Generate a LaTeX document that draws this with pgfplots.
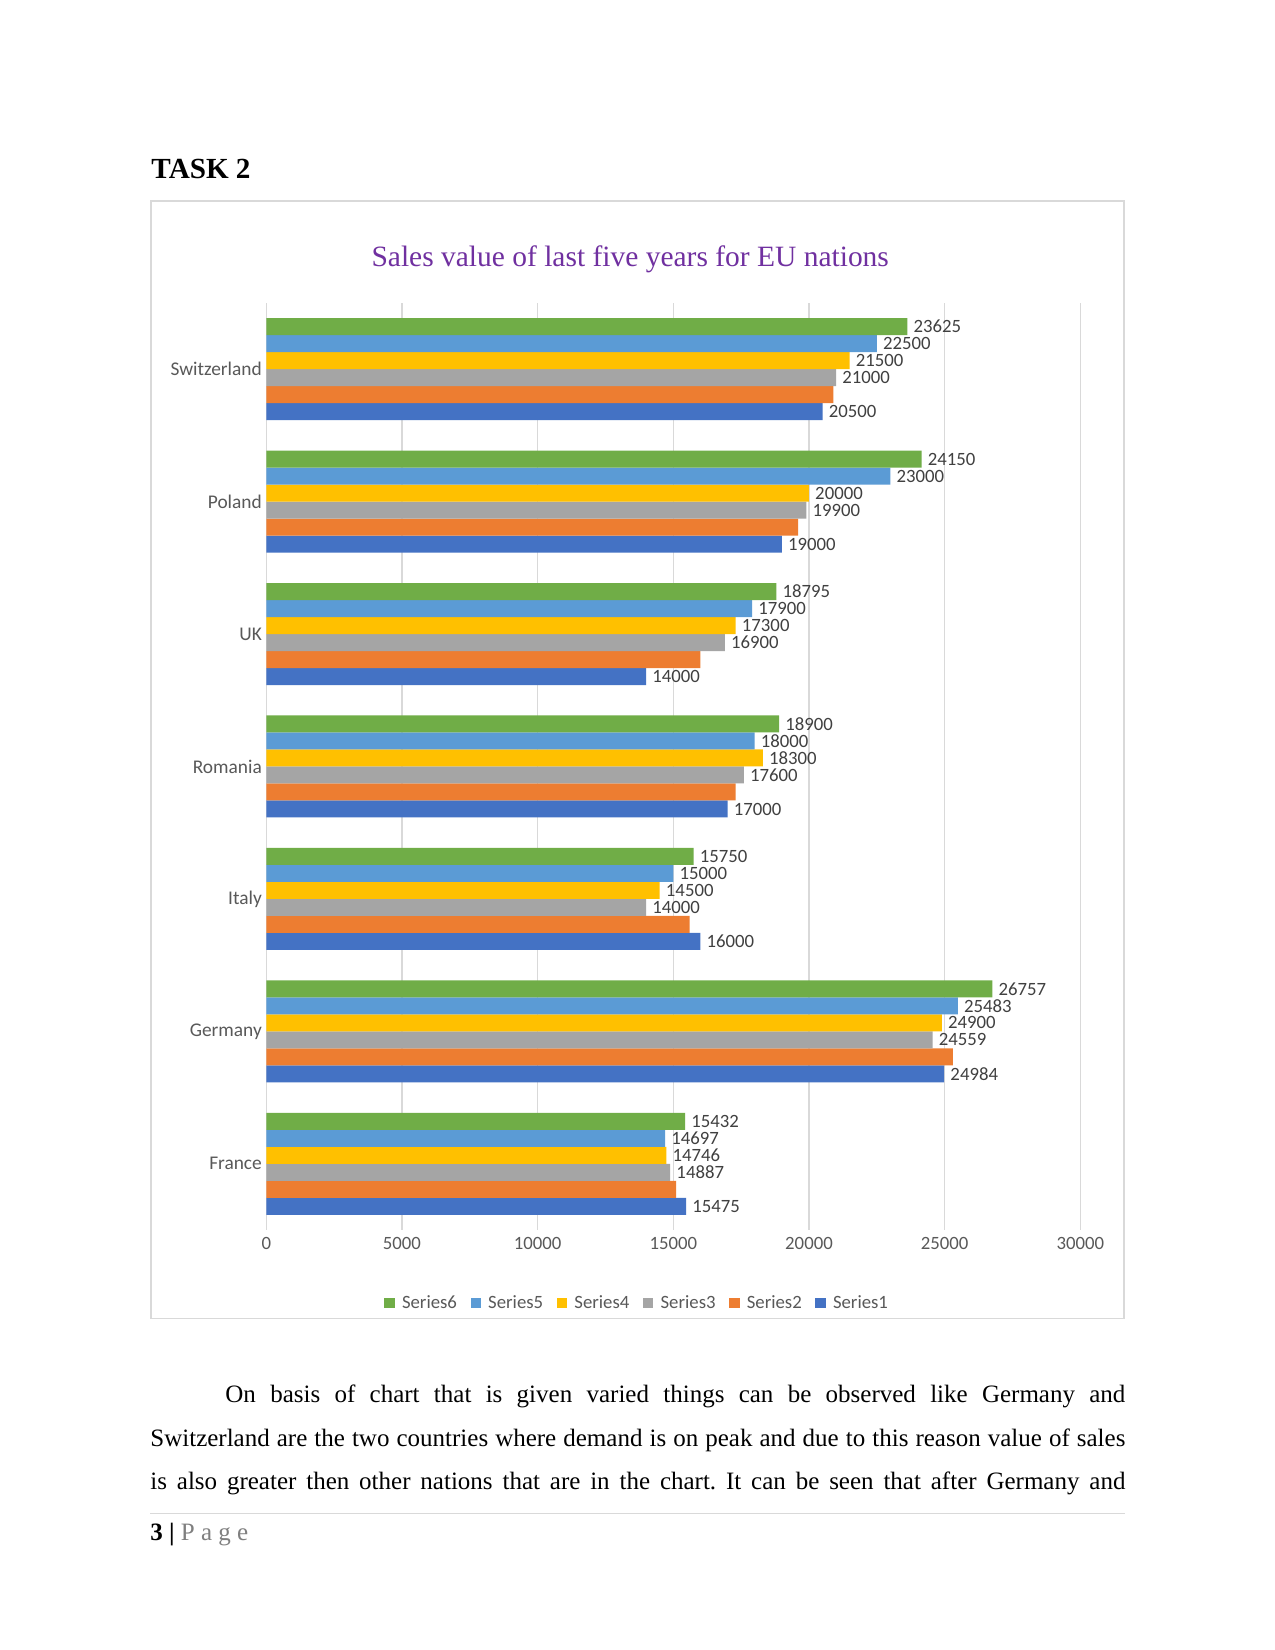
\documentclass[border=0pt]{standalone}
\usepackage{fontspec}
\setmainfont{Liberation Serif}
\newfontfamily\carlito{Carlito}
\usepackage{pgfplots}
\pgfplotsset{compat=1.18}
\definecolor{sA}{HTML}{4472C4}
\definecolor{sB}{HTML}{ED7D31}
\definecolor{sC}{HTML}{A5A5A5}
\definecolor{sD}{HTML}{FFC000}
\definecolor{sE}{HTML}{5B9BD5}
\definecolor{sF}{HTML}{70AD47}
\definecolor{gridGray}{HTML}{D9D9D9}
\definecolor{tickGray}{HTML}{595959}
\definecolor{lblGray}{HTML}{404040}
\definecolor{titlePurple}{HTML}{7030A0}
\definecolor{pageGray}{HTML}{7F7F7F}
\pgfplotsset{
  lbl/.style={
    nodes near coords={\pgfmathprintnumber[fixed,precision=0,1000 sep={}]{\pgfplotspointmeta}},
    every node near coord/.append style={font=\fontsize{9}{11}\selectfont\carlito, text=lblGray, inner sep=2.8pt, anchor=west},
  },
}
\frenchspacing
\begin{document}
\frenchspacing
\begin{tikzpicture}
\path[fill=white] (0pt,0pt) rectangle (612pt,792pt);
\draw[color=gridGray, line width=0.75pt] (72.4pt,159.1pt) rectangle (539.5pt,695.5pt);
\node[anchor=base west, inner sep=0pt, font=\fontsize{14}{16}\selectfont\bfseries] at (72.5pt,706.2pt) {TASK 2};
\node[anchor=base, inner sep=0pt, font=\fontsize{14.15}{16}\selectfont, text=titlePurple] at (302.5pt,664.2pt) {Sales value of last five years for EU nations};
\begin{axis}[
  at={(127.8pt,201.6pt)}, anchor=south west,
  scale only axis, width=390.77pt, height=444.96pt,
  xbar=0pt, bar width=8.16pt,
  xmin=0, xmax=30000, ymin=-0.5, ymax=6.5,
  xtick={0,5000,...,30000}, ytick={0,...,6},
  yticklabels={France,Germany,Italy,Romania,UK,Poland,Switzerland},
  scaled x ticks=false,
  xmajorgrids, grid style={gridGray, line width=0.6pt},
  axis line style={draw=none}, major tick length=0pt,
  tick label style={font=\fontsize{9}{11}\selectfont\carlito, text=tickGray},
  yticklabel style={font=\fontsize{9.3}{11}\selectfont\carlito, xshift=1.4pt},
  xticklabel style={/pgf/number format/1000 sep={}},
  /pgf/number format/assume math mode=true,
  point meta=x,
  legend columns=6, reverse legend,
  legend image code/.code={\fill[#1] (0pt,-2.5pt) rectangle (5pt,2.5pt);},
  legend style={at={(0.455,-0.079)}, anchor=center, draw=none, fill=none,
    inner sep=0pt, outer sep=0pt,
    font=\fontsize{9}{11}\selectfont\carlito, text=tickGray,
    nodes={inner sep=0.5pt},
    /tikz/every odd column/.append style={column sep=3pt},
    /tikz/every even column/.append style={column sep=6pt}},
]
\addplot[fill=sA, draw=none, lbl] coordinates {(15475,0) (24984,1) (16000,2) (17000,3) (14000,4) (19000,5) (20500,6)};
\addplot[fill=sB, draw=none] coordinates {(15100,0) (25300,1) (15600,2) (17300,3) (16000,4) (19600,5) (20900,6)};
\addplot[fill=sC, draw=none, lbl] coordinates {(14887,0) (24559,1) (14000,2) (17600,3) (16900,4) (19900,5) (21000,6)};
\addplot[fill=sD, draw=none, lbl] coordinates {(14746,0) (24900,1) (14500,2) (18300,3) (17300,4) (20000,5) (21500,6)};
\addplot[fill=sE, draw=none, lbl] coordinates {(14697,0) (25483,1) (15000,2) (18000,3) (17900,4) (23000,5) (22500,6)};
\addplot[fill=sF, draw=none, lbl] coordinates {(15432,0) (26757,1) (15750,2) (18900,3) (18795,4) (24150,5) (23625,6)};
\legend{Series1,Series2,Series3,Series4,Series5,Series6}
\end{axis}
\node[anchor=base west, inner sep=0pt, font=\fontsize{12}{14}\selectfont] at (108pt,118.7pt) {\makebox[432pt][s]{On basis of chart that is given varied things can be observed like Germany and}};
\node[anchor=base west, inner sep=0pt, font=\fontsize{12}{14}\selectfont] at (72pt,97.6pt) {\makebox[468pt][s]{Switzerland are the two countries where demand is on peak and due to this reason value of sales}};
\node[anchor=base west, inner sep=0pt, font=\fontsize{12}{14}\selectfont] at (72pt,77.1pt) {\makebox[468pt][s]{is also greater then other nations that are in the chart. It can be seen that after Germany and}};
\draw[color=gridGray, line width=0.5pt] (72pt,65.3pt) -- (540pt,65.3pt);
\node[anchor=base west, inner sep=0pt, font=\fontsize{12}{14}\selectfont] at (72pt,52.6pt) {\textbf{3 |} \textcolor{pageGray}{P a g e}};
\end{tikzpicture}
\end{document}
